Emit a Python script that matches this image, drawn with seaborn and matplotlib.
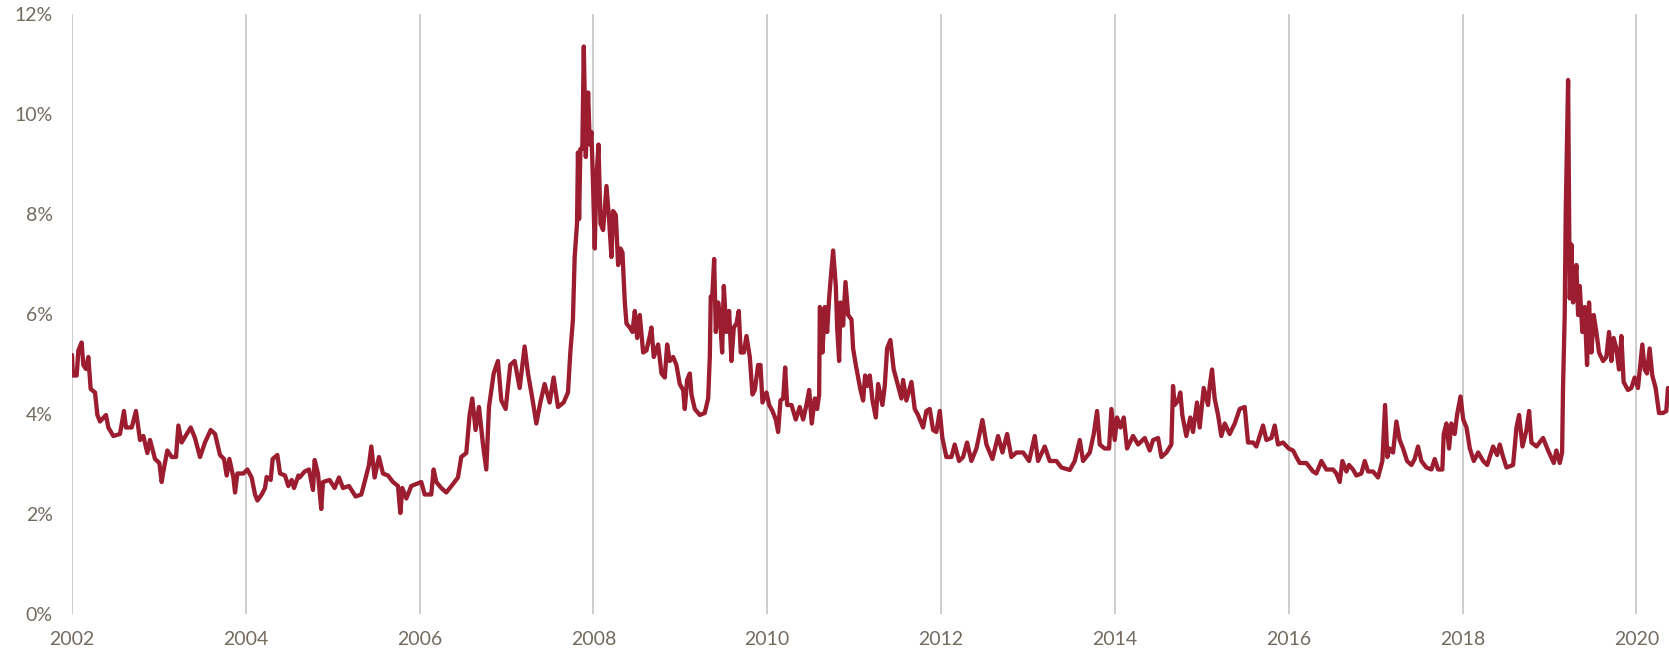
import matplotlib
matplotlib.use("Agg")
import matplotlib.pyplot as plt
import seaborn as sns
import pandas as pd
from matplotlib.ticker import FuncFormatter

# ---- data (decimal year, percent) ----
years = [
    2002.000, 2002.010, 2002.054, 2002.073, 2002.111, 2002.130, 2002.161, 2002.188, 2002.215, 2002.265,
    2002.292, 2002.322, 2002.391, 2002.418, 2002.476, 2002.552, 2002.598, 2002.621, 2002.687, 2002.736,
    2002.783, 2002.821, 2002.867, 2002.898, 2002.955, 2003.005, 2003.032, 2003.051, 2003.097, 2003.147,
    2003.197, 2003.224, 2003.262, 2003.320, 2003.366, 2003.415, 2003.473, 2003.530, 2003.596, 2003.646,
    2003.703, 2003.749, 2003.780, 2003.811, 2003.857, 2003.876, 2003.903, 2003.972, 2004.018, 2004.067,
    2004.106, 2004.133, 2004.183, 2004.221, 2004.240, 2004.286, 2004.309, 2004.363, 2004.394, 2004.451,
    2004.489, 2004.528, 2004.555, 2004.605,
    2004.619, 2004.677, 2004.727, 2004.773, 2004.792, 2004.830, 2004.868, 2004.888, 2004.964, 2005.022,
    2005.072, 2005.118, 2005.187, 2005.264, 2005.329, 2005.367, 2005.417, 2005.444, 2005.482, 2005.532,
    2005.578, 2005.636, 2005.693, 2005.751, 2005.778, 2005.801, 2005.847, 2005.904, 2005.962, 2006.019,
    2006.058, 2006.134, 2006.161, 2006.192, 2006.249, 2006.307, 2006.384, 2006.441, 2006.479, 2006.537,
    2006.575, 2006.606, 2006.644, 2006.683, 2006.729, 2006.767, 2006.798, 2006.852, 2006.901, 2006.940,
    2006.990, 2007.043, 2007.093, 2007.151, 2007.208, 2007.247, 2007.297, 2007.343, 2007.389, 2007.438,
    2007.496, 2007.542, 2007.592, 2007.657, 2007.707, 2007.734, 2007.764, 2007.784, 2007.811, 2007.822,
    2007.835, 2007.850, 2007.872, 2007.889, 2007.912, 2007.939, 2007.958, 2007.977, 2007.996, 2008.015,
    2008.035, 2008.058, 2008.081, 2008.111, 2008.150, 2008.180, 2008.207, 2008.226, 2008.257, 2008.284,
    2008.311, 2008.334, 2008.361, 2008.380, 2008.418, 2008.449, 2008.476, 2008.503, 2008.533, 2008.572,
    2008.610, 2008.648, 2008.667, 2008.694, 2008.744, 2008.783, 2008.821, 2008.848, 2008.878, 2008.917,
    2008.955, 2008.993, 2009.032, 2009.051, 2009.078, 2009.109, 2009.128, 2009.166, 2009.224, 2009.281,
    2009.320, 2009.339, 2009.350, 2009.366, 2009.389, 2009.408, 2009.435, 2009.454, 2009.481, 2009.500,
    2009.530, 2009.561, 2009.588, 2009.615, 2009.646, 2009.672, 2009.695, 2009.730, 2009.761, 2009.799,
    2009.830, 2009.857, 2009.895, 2009.922, 2009.945, 2009.991, 2010.022, 2010.060, 2010.098, 2010.125,
    2010.152, 2010.183, 2010.206, 2010.229, 2010.279, 2010.328, 2010.374, 2010.413, 2010.451, 2010.482,
    2010.512, 2010.547, 2010.574, 2010.597, 2010.605, 2010.624, 2010.635, 2010.662, 2010.689, 2010.712,
    2010.727, 2010.758, 2010.789, 2010.804, 2010.827, 2010.843, 2010.873, 2010.900, 2010.931, 2010.969,
    2010.988, 2011.019, 2011.046, 2011.073, 2011.103, 2011.126, 2011.149, 2011.180, 2011.211, 2011.249,
    2011.276,
    2011.325, 2011.352, 2011.379, 2011.417, 2011.455, 2011.494, 2011.544, 2011.563, 2011.601, 2011.659,
    2011.697, 2011.735, 2011.793, 2011.831, 2011.870, 2011.908, 2011.946, 2011.985, 2012.015, 2012.061,
    2012.119, 2012.157, 2012.207, 2012.253, 2012.299, 2012.349, 2012.407, 2012.476, 2012.522, 2012.591,
    2012.656, 2012.706, 2012.760, 2012.809, 2012.867, 2012.944, 2013.013, 2013.078, 2013.116, 2013.193,
    2013.250, 2013.327, 2013.385, 2013.481, 2013.538, 2013.596, 2013.634, 2013.711, 2013.757, 2013.795,
    2013.826, 2013.883, 2013.933, 2013.960, 2013.998, 2014.025, 2014.064, 2014.102, 2014.140, 2014.209,
    2014.267, 2014.344, 2014.401, 2014.440, 2014.497, 2014.536, 2014.593,
    2014.650, 2014.669, 2014.688, 2014.727, 2014.753, 2014.776, 2014.822, 2014.868, 2014.899, 2014.945,
    2014.976, 2015.022, 2015.072, 2015.091, 2015.118, 2015.148, 2015.187, 2015.225, 2015.264, 2015.321,
    2015.379, 2015.436, 2015.494, 2015.532, 2015.590, 2015.628, 2015.705, 2015.743, 2015.801, 2015.839,
    2015.877, 2015.935, 2016.000, 2016.050, 2016.088, 2016.127, 2016.203, 2016.280, 2016.318, 2016.376,
    2016.433, 2016.510, 2016.549, 2016.587, 2016.618, 2016.664, 2016.694, 2016.740, 2016.779, 2016.836,
    2016.875, 2016.913, 2016.970, 2017.028, 2017.078, 2017.109, 2017.135, 2017.162, 2017.201, 2017.239,
    2017.277, 2017.316, 2017.362, 2017.412, 2017.450, 2017.488, 2017.527, 2017.584, 2017.642, 2017.680,
    2017.719, 2017.768, 2017.784, 2017.815, 2017.845, 2017.872, 2017.910, 2017.937,
    2017.977, 2018.008, 2018.046, 2018.084, 2018.130, 2018.180, 2018.238, 2018.284, 2018.352, 2018.398,
    2018.429, 2018.467, 2018.506, 2018.582, 2018.621, 2018.651, 2018.690, 2018.736, 2018.766, 2018.793,
    2018.851, 2018.927, 2018.985, 2019.050, 2019.080, 2019.119, 2019.146, 2019.157, 2019.176, 2019.188,
    2019.215, 2019.234, 2019.253, 2019.272, 2019.291, 2019.310, 2019.330, 2019.349, 2019.379, 2019.406,
    2019.433, 2019.456, 2019.483, 2019.510, 2019.540, 2019.571, 2019.617, 2019.655, 2019.686, 2019.713,
    2019.739, 2019.770, 2019.801, 2019.828, 2019.854, 2019.904, 2019.943, 2019.981, 2020.019, 2020.069,
    2020.096, 2020.123, 2020.153, 2020.184, 2020.222, 2020.261, 2020.307, 2020.345, 2020.364,
]

values = [
    5.18, 4.77, 4.77, 5.27, 5.43, 4.98, 4.90, 5.14, 4.50, 4.43,
    3.98, 3.85, 3.98, 3.73, 3.56, 3.60, 4.06, 3.73, 3.73, 4.06,
    3.48, 3.56, 3.22, 3.48, 3.10, 3.02, 2.64, 2.85, 3.27, 3.14,
    3.14, 3.77, 3.43, 3.60, 3.73, 3.52, 3.14, 3.43, 3.68, 3.60,
    3.18, 3.10, 2.77, 3.10, 2.73, 2.43, 2.81, 2.81, 2.89, 2.73,
    2.39, 2.27, 2.39, 2.52, 2.74, 2.68, 3.10, 3.18, 2.81, 2.77,
    2.56, 2.68, 2.52, 2.77,
    2.73, 2.85, 2.89, 2.48, 3.08, 2.81, 2.10, 2.64, 2.68, 2.52,
    2.73, 2.52, 2.56, 2.35, 2.39, 2.64, 2.98, 3.35, 2.73, 3.14,
    2.81, 2.77, 2.64, 2.56, 2.02, 2.52, 2.31, 2.56, 2.60, 2.64,
    2.39, 2.39, 2.89, 2.64, 2.52, 2.43, 2.60, 2.73, 3.14, 3.22,
    3.98, 4.31, 3.68, 4.14, 3.39, 2.89, 4.14, 4.81, 5.06, 4.27,
    4.10, 4.98, 5.06, 4.52, 5.35, 4.81, 4.31, 3.81, 4.23, 4.60,
    4.23, 4.73, 4.14, 4.23, 4.43, 5.23, 5.89, 7.14, 7.81, 9.23,
    7.90, 9.30, 9.30, 11.35, 9.14, 10.43, 9.39, 9.64, 8.56, 7.31,
    8.73, 9.39, 7.81, 7.68, 8.56, 7.89, 7.14, 8.06, 7.98, 6.98,
    7.31, 7.23, 6.23, 5.81, 5.73, 5.64, 6.06, 5.52, 5.98, 5.23,
    5.27, 5.56, 5.73, 5.14, 5.39, 4.81, 4.73, 5.39, 5.06, 5.14,
    4.98, 4.60, 4.48, 4.10, 4.68, 4.81, 4.39, 4.10, 3.98, 4.02,
    4.31, 5.14, 6.35, 6.31, 7.10, 5.64, 6.23, 5.98, 5.23, 6.56,
    5.64, 6.06, 5.06, 5.73, 5.81, 6.06, 5.23, 5.23, 5.56, 5.14,
    4.39, 4.48, 4.98, 4.98, 4.23, 4.43, 4.18, 4.06, 3.89, 3.64,
    4.27, 4.31, 4.93, 4.18, 4.18, 3.89, 4.14, 3.89, 4.18, 4.48,
    3.81, 4.31, 4.10, 4.39, 6.14, 5.98, 5.23, 6.14, 5.64, 6.31,
    6.64, 7.27, 6.56, 5.73, 5.06, 6.23, 5.77, 6.64, 5.98, 5.89,
    5.31, 4.98, 4.73, 4.48, 4.27, 4.77, 4.56, 4.77, 4.27, 3.93,
    4.60,
    4.18, 4.56, 5.31, 5.48, 4.89, 4.64, 4.31, 4.68, 4.27, 4.64,
    4.10, 3.98, 3.73, 4.06, 4.10, 3.68, 3.64, 4.06, 3.52, 3.14,
    3.14, 3.39, 3.06, 3.14, 3.43, 3.06, 3.31, 3.88, 3.39, 3.10,
    3.56, 3.23, 3.60, 3.14, 3.23, 3.23, 3.06, 3.56, 3.06, 3.35,
    3.06, 3.06, 2.93, 2.88, 3.06, 3.48, 3.06, 3.23, 3.60, 4.06,
    3.39, 3.31, 3.31, 4.10, 3.48, 3.93, 3.73, 3.93, 3.31, 3.56,
    3.39, 3.52, 3.27, 3.48, 3.52, 3.14, 3.23,
    3.39, 4.56, 4.18, 4.27, 4.43, 3.98, 3.56, 3.93, 3.64, 4.23,
    3.73, 4.52, 4.18, 4.56, 4.89, 4.31, 3.98, 3.56, 3.81, 3.60,
    3.81, 4.10, 4.14, 3.43, 3.43, 3.35, 3.77, 3.48, 3.52, 3.77,
    3.39, 3.43, 3.31, 3.27, 3.14, 3.02, 3.02, 2.85, 2.81, 3.06,
    2.89, 2.89, 2.81, 2.64, 3.06, 2.85, 2.98, 2.89, 2.77, 2.81,
    3.06, 2.85, 2.85, 2.73, 3.06, 4.18, 3.14, 3.31, 3.23, 3.85,
    3.48, 3.31, 3.06, 2.98, 3.10, 3.35, 3.06, 2.93, 2.89, 3.10,
    2.89, 2.89, 3.60, 3.81, 3.31, 3.81, 3.60, 3.98,
    4.35, 3.89, 3.73, 3.31, 3.06, 3.23, 3.06, 2.98, 3.35, 3.18,
    3.39, 3.14, 2.93, 2.98, 3.73, 3.98, 3.35, 3.68, 4.06, 3.43,
    3.35, 3.52, 3.27, 3.02, 3.27, 3.02, 3.23, 4.56, 5.98, 8.06,
    10.68, 6.31, 7.39, 6.23, 6.48, 6.98, 5.98, 6.56, 5.64, 6.14,
    4.98, 6.23, 5.23, 5.98, 5.64, 5.23, 5.06, 5.14, 5.64, 5.06,
    5.52, 5.31, 4.89, 5.56, 4.64, 4.48, 4.52, 4.73, 4.52, 5.39,
    4.89, 4.81, 5.31, 4.77, 4.52, 4.02, 4.02, 4.06, 4.52,
]

x_ticks = [2002, 2004, 2006, 2008, 2010, 2012, 2014, 2016, 2018, 2020]
y_ticks = [0, 2, 4, 6, 8, 10, 12]

df = pd.DataFrame({"year": years, "value": values})

sns.set_theme(style="white")
plt.rcParams["font.family"] = ["Lato", "DejaVu Sans"]

W, H = 1669, 652
fig = plt.figure(figsize=(W / 100, H / 100), dpi=100)
ax = fig.add_axes([72 / W, 1 - 614 / H, 1 - 72 / W, 600 / H])

sns.lineplot(data=df, x="year", y="value", ax=ax, color="#9b1d2f",
             linewidth=3.1, estimator=None, sort=False,
             solid_joinstyle="round", solid_capstyle="round")

ax.set_xlim(2002, 2020.376)
ax.set_ylim(0, 12)
ax.set_xticks(x_ticks)
ax.set_yticks(y_ticks)
ax.xaxis.set_major_formatter(FuncFormatter(lambda v, p: f"{int(round(v))}"))
ax.yaxis.set_major_formatter(FuncFormatter(lambda v, p: f"{int(round(v))}%"))

ax.grid(False)
for xt in x_ticks:
    ax.axvline(xt, color="#c9c9c9", linewidth=1.3, zorder=0)

for s in ax.spines.values():
    s.set_visible(False)

ax.tick_params(axis="both", length=0, labelsize=14, labelcolor="#756a5e")
ax.tick_params(axis="y", pad=14)
ax.tick_params(axis="x", pad=12)
ax.set_xlabel("")
ax.set_ylabel("")

fig.savefig("out.png", dpi=100)
